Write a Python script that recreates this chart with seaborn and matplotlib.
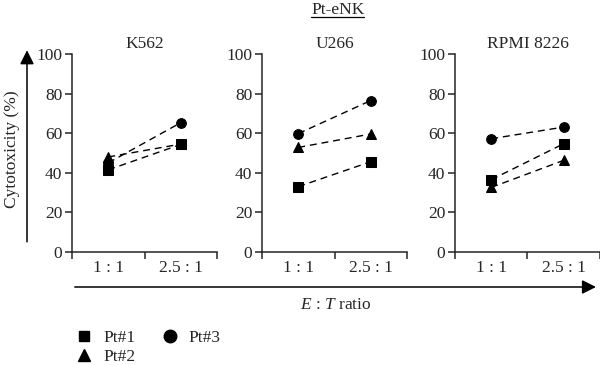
import matplotlib
matplotlib.use("Agg")
import matplotlib.pyplot as plt
from matplotlib.lines import Line2D
import seaborn as sns
import pandas as pd

# data
ratios = ["1 : 1", "2.5 : 1"]
cell_lines = ["K562", "U266", "RPMI 8226"]
patients = ["Pt#1", "Pt#2", "Pt#3"]
k562 = {"Pt#1": [41.5, 54.3], "Pt#2": [48.0, 54.5], "Pt#3": [45.0, 65.3]}
u266 = {"Pt#1": [33.0, 45.6], "Pt#2": [52.8, 59.6], "Pt#3": [59.8, 76.5]}
rpmi = {"Pt#1": [36.5, 54.7], "Pt#2": [32.6, 46.3], "Pt#3": [57.2, 63.1]}
markers = {"Pt#1": "s", "Pt#2": "^", "Pt#3": "o"}
legend_sizes = {"Pt#1": 7, "Pt#2": 8, "Pt#3": 9}

sns.set_style("ticks")
plt.rcParams["font.family"] = ["Liberation Serif", "DejaVu Serif"]
plt.rcParams["mathtext.fontset"] = "custom"
plt.rcParams["mathtext.it"] = "Liberation Serif:italic"
plt.rcParams["mathtext.rm"] = "Liberation Serif"

fig = plt.figure(figsize=(6, 3.65), dpi=100)
lefts = [0.12, 0.4367, 0.7583]

for left, name, vals in zip(lefts, cell_lines, [k562, u266, rpmi]):
    ax = fig.add_axes([left, 0.3096, 0.2417, 0.5425])
    rows = []
    for p in patients:
        for r, v in zip(ratios, vals[p]):
            rows.append({"ratio": r, "patient": p, "value": v})
    df = pd.DataFrame(rows)
    sns.pointplot(data=df, x="ratio", y="value", hue="patient", order=ratios,
                  hue_order=patients, palette=["black"] * 3,
                  markers=[markers[p] for p in patients],
                  linestyles=["--"] * 3, dodge=False, ax=ax,
                  markersize=7, linewidth=1.0, legend=False)
    for line in ax.lines:
        line.set_dashes([5, 3.5])
    ax.set_xlim(-0.5, 1.5)
    ax.set_ylim(0, 100)
    ax.set_yticks([0, 20, 40, 60, 80, 100])
    ax.set_xticks([-0.5, 0.5, 1.5])
    ax.set_xticklabels([])
    ax.set_xticks([0, 1], minor=True)
    ax.set_xticklabels(ratios, minor=True)
    ax.tick_params(axis="x", which="minor", length=0, pad=6, labelsize=12.5)
    ax.tick_params(axis="x", which="major", length=5, width=1.1, direction="out")
    ax.tick_params(axis="y", length=5, width=1.1, labelsize=12.5, pad=2)
    ax.set_xlabel("")
    ax.set_ylabel("")
    ax.set_title(name, fontsize=12.5, pad=4)
    for s in ["top", "right"]:
        ax.spines[s].set_visible(False)
    for s in ["left", "bottom"]:
        ax.spines[s].set_linewidth(1.1)

# vertical arrow with y label
fig.add_artist(matplotlib.patches.FancyArrowPatch((0.045, 0.33), (0.045, 0.87),
               transform=fig.transFigure, arrowstyle="-|>,head_length=0.6,head_width=0.3",
               mutation_scale=14, lw=1.1, color="black"))
fig.text(0.02, 0.59, "Cytotoxicity (%)", rotation=90, ha="center", va="center", fontsize=12.5)

# horizontal arrow with x label
fig.add_artist(matplotlib.patches.FancyArrowPatch((0.12, 0.2137), (0.998, 0.2137),
               transform=fig.transFigure, arrowstyle="-|>,head_length=0.6,head_width=0.3",
               mutation_scale=14, lw=1.1, color="black"))
fig.text(0.56, 0.165, r"$\mathit{E}$ : $\mathit{T}$ ratio", ha="center", va="center", fontsize=12.5)

# underlined super title
t = fig.text(0.563, 0.972, "Pt-eNK", ha="center", va="center", fontsize=12.5)
fig.canvas.draw()
bb = t.get_window_extent().transformed(fig.transFigure.inverted())
fig.add_artist(Line2D([bb.x0, bb.x1], [bb.y0 + 0.004, bb.y0 + 0.004],
                      transform=fig.transFigure, color="black", lw=0.9))

handles = [Line2D([], [], marker=markers[p], color="black", linestyle="none",
                  markersize=legend_sizes[p], label=p) for p in patients]
fig.legend(handles=handles, ncol=2, loc="upper left", bbox_to_anchor=(0.108, 0.12),
           frameon=False, fontsize=12.5, handletextpad=0.5, columnspacing=1.4,
           labelspacing=0.15, handlelength=1.2, borderpad=0)

fig.savefig("out.png", dpi=100)
